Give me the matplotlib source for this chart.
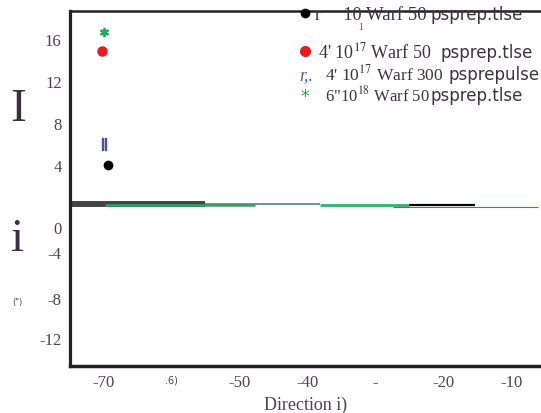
import matplotlib.pyplot as plt
import numpy as np

plt.rcParams['mathtext.fontset'] = 'stix'

# point markers (direction, intensity)
pt_x = [-69.4, -70.3, -70.0, -70.0]
pt_y = [4.0, 14.9, 6.0, 16.7]
pt_color = ['black', '#e8191f', '#4850a0', '#1faa5a']
pt_marker = ['o', 'o', r'$\Vert$', '$*$']
pt_size = [6, 6.5, 9, 6]

# flat segments near zero
seg_x0 = [-75.0, -69.8, -55.1, -38.1, -25.1, -27.4]
seg_x1 = [-55.1, -47.7, -38.1, -25.1, -15.3, -6.0]
seg_y = [0.29, 0.22, 0.29, 0.26, 0.26, 0.0]
seg_color = ['#444444', '#2aa866', '#4f8a6c', '#2ab56e', 'black', '#e83a3a']
seg_lw = [4.3, 1.8, 1.2, 2.0, 1.6, 0.8]

xticks = [-70, -60, -50, -40, -30, -20, -10]
xlabels = ['-70', '.6)', '-50', '-40', '-', '-20', '-10']
yticks = [16, 12, 8, 4, -1.9, -4.3, -8.6, -12.4]
ylabels = ['16', '12', '8', '4', '0', '-4', '-8', '-12']

serif = 'Liberation Serif'
sans = 'DejaVu Sans'
txtcol = '#4a4350'
legcol = '#3a3540'

W, H = 541, 414

fig = plt.figure(figsize=(5.41, 4.14), dpi=100)
ax = fig.add_axes([70/W, 47/H, 471/W, 355/H])

for x0, x1, y, c, lw in zip(seg_x0, seg_x1, seg_y, seg_color, seg_lw):
    ax.plot([x0, x1], [y, y], color=c, lw=lw, solid_capstyle='butt')

for x, y, c, m, s in zip(pt_x, pt_y, pt_color, pt_marker, pt_size):
    ax.plot([x], [y], marker=m, color=c, markersize=s, ls='none')

ax.set_xlim(-75, -5.6)
ax.set_ylim(-15.1, 18.67)
ax.set_xticks(xticks)
ax.set_xticklabels(xlabels, fontfamily=serif, fontsize=12, color=txtcol)
ax.set_yticks(yticks)
ax.set_yticklabels(ylabels, fontfamily=serif, fontsize=12, color=txtcol)
ax.tick_params(length=0, pad=6)
ax.xaxis.get_ticklabels()[1].set_fontfamily(sans)
ax.xaxis.get_ticklabels()[1].set_fontsize(7)

ax.spines['right'].set_visible(False)
ax.spines['left'].set_linewidth(2.3)
ax.spines['bottom'].set_linewidth(2.5)
ax.spines['top'].set_linewidth(1.8)
for s in ax.spines.values():
    s.set_color('#222222')

ax.set_xlabel('Direction i)', fontfamily=serif, fontsize=13, color=txtcol, labelpad=4)

fig.text(18/W, 1 - 110/H, 'I', fontfamily=serif, fontsize=34, color='#3a3040', ha='center', va='center')
fig.text(18/W, 1 - 240/H, 'i', fontfamily=serif, fontsize=34, color='#3a3040', ha='center', va='center')
fig.text(17/W, 1 - 302/H, '(")', fontfamily=sans, fontsize=6, color=txtcol, ha='center', va='center')


def put(x, base, s, family=serif, size=13, color=legcol, **kw):
    fig.text(x/W, 1 - base/H, s, fontfamily=family, fontsize=size, color=color, va='baseline', **kw)


# hand made legend
fig.lines.append(plt.Line2D([305/W], [1 - 14/H], marker='o', color='black', markersize=6, transform=fig.transFigure))
put(315, 20, 'r     10', size=13)
put(358, 30, '1', size=7, color='#c03030')
put(366, 20, 'Warf 50', size=13.5)
put(431, 20, 'psprep.tlse', family=sans, size=12)

fig.lines.append(plt.Line2D([305/W], [1 - 52/H], marker='o', color='#e8191f', markersize=7, transform=fig.transFigure))
put(318, 58, "4' 10$^{17}$ Warf 50")
put(440, 58, 'psprep.tlse', family=sans, size=12)

put(299, 80, 'r,.', size=13, color='#5058a8', style='italic')
put(325, 80, "4' 10$^{17}$ Warf 300", size=12.5)
put(448, 80, 'psprepulse', family=sans, size=12)

fig.text(305/W, 1 - 97/H, '*', fontfamily=sans, fontsize=13, color='#1faa5a', ha='center', va='center')
put(325, 101, '6"10$^{18}$ Warf 50', size=12)
put(430, 101, 'psprep.tlse', family=sans, size=12)

fig.savefig('out.png', dpi=100)
